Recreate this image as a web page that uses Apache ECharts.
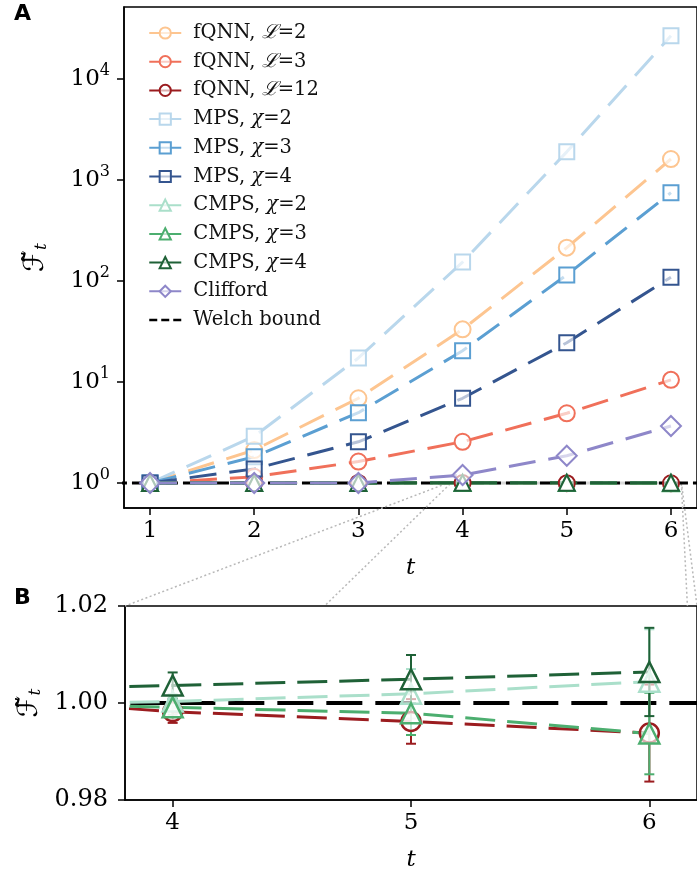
<!DOCTYPE html>
<html>
<head>
<meta charset="utf-8">
<script src="https://cdn.jsdelivr.net/npm/echarts@6/dist/echarts.min.js"></script>
<style>
  html, body { margin: 0; padding: 0; background: #fff; }
  #chart { width: 697px; height: 875px; }
</style>
</head>
<body>
<div id="chart"></div>
<script>
// Design steps t
const steps = [1, 2, 3, 4, 5, 6];

// Frame potential estimates per model family
const fqnnL2   = [1.0, 2.12, 6.9, 33.2, 214, 1614];
const fqnnL3   = [1.0, 1.15, 1.63, 2.56, 4.9, 10.5];
const fqnnL12  = [1.0, 1.0, 1.0017, 0.9982, 0.9962, 0.9938];
const mpsX2    = [1.0, 2.9, 17.3, 154, 1900, 26800];
const mpsX3    = [1.0, 1.82, 4.97, 20.4, 115, 749];
const mpsX4    = [1.0, 1.38, 2.56, 6.9, 24.5, 109];
const cmpsX2   = [1.0, 1.0, 0.9995, 1.0003, 1.0019, 1.0044];
const cmpsX3   = [1.0, 1.0, 1.0005, 0.9991, 0.9979, 0.9937];
const cmpsX4   = [1.0, 1.0, 1.0024, 1.0036, 1.0049, 1.0064];
const clifford = [1.0, 1.0, 1.0, 1.2, 1.86, 3.67];

// Standard errors (half widths) shown in the zoomed panel
const fqnnL12Err = [0, 0, 0, 0.0023, 0.0046, 0.0100];
const cmpsX2Err  = [0, 0, 0, 0.0015, 0.0051, 0.0108];
const cmpsX3Err  = [0, 0, 0, 0.0015, 0.0045, 0.0084];
const cmpsX4Err  = [0, 0, 0, 0.0027, 0.0050, 0.0091];

// Welch bound (normalised)
const welchBound = 1;

// Tick labels
const tickStepsA = [1, 2, 3, 4, 5, 6];
const tickStepsB = [4, 5, 6];
const decadeExponents = [0, 1, 2, 3, 4];

// Region of panel A shown magnified in panel B
const zoomRegionT = [3.88, 6.1];
const zoomRegionF = [0.98, 1.02];

const SERIF = 'DejaVu Serif';

const seriesDefs = [
  { name: 'fQNN, ℒ=2',  values: fqnnL2,   color: '#fdc590', symbol: 'circle',   size: 16 },
  { name: 'fQNN, ℒ=3',  values: fqnnL3,   color: '#f0705a', symbol: 'circle',   size: 16 },
  { name: 'fQNN, ℒ=12', values: fqnnL12,  color: '#9b1c1f', symbol: 'circle',   size: 16, err: fqnnL12Err, sizeB: 19 },
  { name: 'MPS, χ=2',   values: mpsX2,    color: '#b9d7ec', symbol: 'rect',     size: 15 },
  { name: 'MPS, χ=3',   values: mpsX3,    color: '#5b9fd2', symbol: 'rect',     size: 15 },
  { name: 'MPS, χ=4',   values: mpsX4,    color: '#34558f', symbol: 'rect',     size: 15 },
  { name: 'CMPS, χ=2',  values: cmpsX2,   color: '#aadfca', symbol: 'triangle', size: 16, err: cmpsX2Err, sizeB: 20 },
  { name: 'CMPS, χ=3',  values: cmpsX3,   color: '#4cae6f', symbol: 'triangle', size: 16, err: cmpsX3Err, sizeB: 20 },
  { name: 'CMPS, χ=4',  values: cmpsX4,   color: '#1f6137', symbol: 'triangle', size: 16, err: cmpsX4Err, sizeB: 20 },
  { name: 'Clifford',   values: clifford, color: '#8e87c9', symbol: 'diamond',  size: 20 }
];
const WELCH = 'Welch bound';

// Panel A: log scale drawn on log10 values
const yMinA = -0.2475, yMaxA = 4.713;
const minorTicksA = [];
for (let n = -1; n <= 4; n++) {
  for (let k = 2; k <= 9; k++) {
    const v = Math.log10(k * Math.pow(10, n));
    if (v > yMinA && v < yMaxA) minorTicksA.push(v);
  }
}

const axisLineStyle = { color: '#000', width: 1.5 };

const series = [];

// Welch bound lines (drawn first, beneath the data)
series.push({
  name: WELCH, type: 'line', xAxisIndex: 0, yAxisIndex: 0, z: 1,
  data: [[0.5, Math.log10(welchBound)], [6.5, Math.log10(welchBound)]],
  symbol: 'none', itemStyle: { color: '#000' },
  lineStyle: { color: '#000', width: 3, type: [12, 5] }, silent: true
});
series.push({
  name: WELCH, type: 'line', xAxisIndex: 1, yAxisIndex: 2, z: 1,
  data: [[3, welchBound], [7, welchBound]],
  symbol: 'none', itemStyle: { color: '#000' },
  lineStyle: { color: '#000', width: 4, type: [36, 13] }, silent: true
});

seriesDefs.forEach(d => {
  series.push({
    name: d.name, type: 'line', xAxisIndex: 0, yAxisIndex: 0, z: 3,
    data: steps.map((t, i) => [t, Math.log10(d.values[i])]),
    symbol: d.symbol, symbolSize: d.size, showSymbol: true,
    lineStyle: { color: d.color, width: 3, type: [27, 13] },
    itemStyle: { color: 'rgba(255,255,255,0.65)', borderColor: d.color, borderWidth: 2 },
    emphasis: { disabled: true }
  });
});

// Panel B: only series that stay near the bound
seriesDefs.filter(d => d.err).forEach(d => {
  series.push({
    name: d.name, type: 'custom', xAxisIndex: 1, yAxisIndex: 2, z: 3, clip: true,
    data: steps.map((t, i) => [t, d.values[i], d.err[i]]),
    renderItem: (params, api) => {
      const x = api.value(0), y = api.value(1), e = api.value(2);
      const top = api.coord([x, y + e]), bot = api.coord([x, y - e]);
      const w = 5, st = { stroke: d.color, lineWidth: 2 };
      return { type: 'group', children: [
        { type: 'line', shape: { x1: top[0], y1: top[1], x2: bot[0], y2: bot[1] }, style: st },
        { type: 'line', shape: { x1: top[0] - w, y1: top[1], x2: top[0] + w, y2: top[1] }, style: st },
        { type: 'line', shape: { x1: bot[0] - w, y1: bot[1], x2: bot[0] + w, y2: bot[1] }, style: st }
      ]};
    },
    silent: true
  });
  series.push({
    name: d.name, type: 'line', xAxisIndex: 1, yAxisIndex: 2, z: 4,
    data: steps.map((t, i) => [t, d.values[i]]),
    symbol: d.symbol, symbolSize: d.sizeB, showSymbol: true,
    lineStyle: { color: d.color, width: 3, type: [30, 12] },
    itemStyle: { color: 'rgba(255,255,255,0.65)', borderColor: d.color, borderWidth: 2.5 },
    emphasis: { disabled: true }
  });
});

const yNameRich = {
  f: { fontFamily: 'DejaVu Sans', fontSize: 28, color: '#000' },
  s: { fontFamily: SERIF, fontStyle: 'italic', fontSize: 17, color: '#000', verticalAlign: 'bottom', padding: [10, 0, 0, 0] }
};

const option = {
  animation: false,
  backgroundColor: '#fff',
  grid: [
    { left: 124, top: 7, width: 576.4, height: 501, show: true, borderColor: '#000', borderWidth: 1.5, backgroundColor: 'transparent' },
    { left: 125, top: 606, width: 575.3, height: 194, show: true, borderColor: '#000', borderWidth: 1.5, backgroundColor: 'transparent' }
  ],
  xAxis: [
    {
      type: 'value', gridIndex: 0, min: 0.75, max: 6.25,
      name: 't', nameLocation: 'middle', nameGap: 49,
      nameTextStyle: { fontFamily: SERIF, fontStyle: 'italic', fontSize: 23, color: '#000' },
      axisLine: { show: true, onZero: false, lineStyle: axisLineStyle },
      axisTick: { show: true, length: 7, lineStyle: axisLineStyle, customValues: tickStepsA },
      axisLabel: { fontFamily: SERIF, fontSize: 23, color: '#000', margin: 12, customValues: tickStepsA },
      splitLine: { show: false }
    },
    {
      type: 'value', gridIndex: 1, min: 3.8, max: 6.2,
      name: 't', nameLocation: 'middle', nameGap: 49,
      nameTextStyle: { fontFamily: SERIF, fontStyle: 'italic', fontSize: 23, color: '#000' },
      axisLine: { show: true, onZero: false, lineStyle: axisLineStyle },
      axisTick: { show: true, length: 7, lineStyle: axisLineStyle, customValues: tickStepsB },
      axisLabel: { fontFamily: SERIF, fontSize: 23, color: '#000', margin: 12, customValues: tickStepsB },
      splitLine: { show: false }
    }
  ],
  yAxis: [
    {
      type: 'value', gridIndex: 0, min: yMinA, max: yMaxA,
      name: '{f|ℱ̃}{s|t}', nameLocation: 'middle', nameGap: 74, nameRotate: 90,
      nameTextStyle: { rich: yNameRich },
      axisLine: { show: true, onZero: false, lineStyle: axisLineStyle },
      axisTick: { show: true, length: 7, lineStyle: axisLineStyle, customValues: decadeExponents },
      axisLabel: {
        customValues: decadeExponents, margin: 14,
        formatter: v => '{b|10}{s|' + Math.round(v) + '}',
        rich: {
          b: { fontFamily: SERIF, fontSize: 23, color: '#000', lineHeight: 32 },
          s: { fontFamily: SERIF, fontSize: 16, color: '#000', verticalAlign: 'top', lineHeight: 16 }
        }
      },
      splitLine: { show: false }
    },
    {
      type: 'value', gridIndex: 0, min: yMinA, max: yMaxA,
      axisLine: { show: false },
      axisTick: { show: true, length: 4, lineStyle: { color: '#000', width: 1.2 }, customValues: minorTicksA },
      axisLabel: { show: false },
      splitLine: { show: false }
    },
    {
      type: 'value', gridIndex: 1, min: 0.98, max: 1.02, interval: 0.02,
      name: '{f|ℱ̃}{s|t}', nameLocation: 'middle', nameGap: 76, nameRotate: 90,
      nameTextStyle: { rich: yNameRich },
      axisLine: { show: true, onZero: false, lineStyle: axisLineStyle },
      axisTick: { show: true, length: 7, lineStyle: axisLineStyle },
      axisLabel: { fontFamily: SERIF, fontSize: 24, color: '#000', margin: 17, formatter: v => v.toFixed(2) },
      splitLine: { show: false }
    }
  ],
  legend: {
    orient: 'vertical', left: 143, top: 18, itemWidth: 32, itemHeight: 14, itemGap: 8.7,
    selectedMode: false,
    textStyle: {
      fontFamily: SERIF, fontSize: 19.5, color: '#111', lineHeight: 20, padding: [0, 0, 0, 7],
      rich: { i: { fontFamily: SERIF, fontStyle: 'italic', fontSize: 19.5, color: '#111' } }
    },
    lineStyle: { type: 'solid' },
    formatter: n => n.replace(/([ℒχ])/g, '{i|$1}'),
    data: seriesDefs.map(d => d.name).concat([{
      name: WELCH,
      lineStyle: { type: [8, 4], width: 2.5, color: '#000' },
      itemStyle: { color: 'rgba(0,0,0,0)', borderColor: 'rgba(0,0,0,0)', borderWidth: 0 }
    }])
  },
  graphic: [
    { type: 'text', left: 14, top: 3, style: { text: 'A', fontFamily: 'DejaVu Sans', fontWeight: 'bold', fontSize: 22, fill: '#000' } },
    { type: 'text', left: 14, top: 587, style: { text: 'B', fontFamily: 'DejaVu Sans', fontWeight: 'bold', fontSize: 22, fill: '#000' } }
  ],
  series: series
};

const chart = echarts.init(document.getElementById('chart'), null, { renderer: 'canvas' });
chart.setOption(option);

// Zoom indicator: rectangle in panel A and dotted connectors to panel B corners
const pA = (t, f) => chart.convertToPixel({ xAxisIndex: 0, yAxisIndex: 0 }, [t, Math.log10(f)]);
const pB = (t, f) => chart.convertToPixel({ xAxisIndex: 1, yAxisIndex: 2 }, [t, f]);
const bMinT = 3.8, bMaxT = 6.2, bMinF = 0.98, bMaxF = 1.02;
const rUL = pA(zoomRegionT[0], zoomRegionF[1]), rLL = pA(zoomRegionT[0], zoomRegionF[0]);
const rUR = pA(zoomRegionT[1], zoomRegionF[1]), rLR = pA(zoomRegionT[1], zoomRegionF[0]);
const bUL = pB(bMinT, bMaxF), bLL = pB(bMinT, bMinF), bUR = pB(bMaxT, bMaxF), bLR = pB(bMaxT, bMinF);
const bTop = bUL[1];
function clipToTop(p, q) {
  if (q[1] <= bTop) return q;
  const k = (bTop - p[1]) / (q[1] - p[1]);
  return [p[0] + (q[0] - p[0]) * k, bTop];
}
const dotted = { stroke: '#b8b8b8', lineWidth: 1.5, lineDash: [2, 2.5] };
const links = [[rUL, bUL], [rLL, bLL], [rUR, bUR], [rLR, bLR]].map(([p, q]) => {
  const e = clipToTop(p, q);
  return { type: 'line', z: 1, silent: true, shape: { x1: p[0], y1: p[1], x2: e[0], y2: e[1] }, style: dotted };
});
links.push({
  type: 'rect', z: 1, silent: true,
  shape: { x: rUL[0], y: rUL[1], width: rUR[0] - rUL[0], height: rLL[1] - rUL[1] },
  style: { fill: 'rgba(200,200,200,0.25)', stroke: '#c8c8c8', lineWidth: 1 }
});
chart.setOption({ graphic: option.graphic.concat(links) });
</script>
</body>
</html>
